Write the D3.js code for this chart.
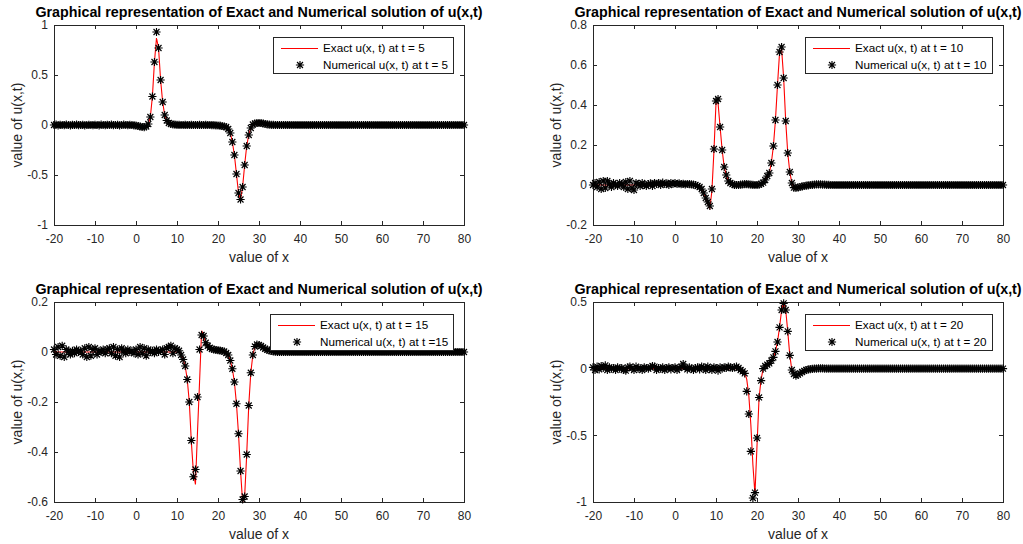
<!DOCTYPE html>
<html>
<head>
<meta charset="utf-8">
<script src="https://cdn.jsdelivr.net/npm/d3@7"></script>
<style>
  body { margin: 0; background: #fff; }
  svg { display: block; font-family: "Liberation Sans", Arial, Helvetica, sans-serif; }
</style>
</head>
<body>
<svg id="fig" width="1023" height="544"></svg>
<script>
// ---- data ----
const xGrid = d3.range(-20, 80.25, 0.5);   // numerical grid, dx = 0.5
const xTicks = [-20, -10, 0, 10, 20, 30, 40, 50, 60, 70, 80];

const yTicks5 = [-1, -0.5, 0, 0.5, 1];
const yTicks10 = [-0.2, 0, 0.2, 0.4, 0.6, 0.8];
const yTicks15 = [-0.6, -0.4, -0.2, 0, 0.2];
const yTicks20 = [-1, -0.5, 0, 0.5];

const titleText = "Graphical representation of Exact and Numerical solution of u(x,t)";
const xLabelText = "value of x";
const yLabelText = "value of u(x,t)";
const exactLabels = ["Exact u(x, t) at t = 5", "Exact u(x, t) at t = 10", "Exact u(x, t) at t = 15", "Exact u(x, t) at t = 20"];
const numLabels = ["Numerical u(x, t) at t = 5", "Numerical u(x, t) at t = 10", "Numerical u(x, t) at t =15", "Numerical u(x, t) at t = 20"];

// numerical solution, one value per grid point (rows of 10 units)
const num5 = [
  0, 0.004, -0.003, 0.002, 0, -0.002, 0.003, 0, -0.003, 0.002, 0, 0.003, -0.002, 0, 0.002, -0.003, 0, 0.002, 0, -0.002,
  0.002, 0, -0.003, 0.003, 0, -0.002, 0.002, 0, 0.003, -0.002, 0, 0.002, -0.003, 0, 0.003, 0, -0.002, 0.002, 0, -0.003,
  -0.005, -0.01, -0.015, -0.02, -0.022, -0.015, 0.01, 0.08, 0.285, 0.63, 0.93, 0.77, 0.45, 0.23, 0.1, 0.045, 0.02, 0.01, 0.005, 0.003,
  0.002, 0.001, 0, 0, 0.001, 0, 0, 0.001, 0, 0, 0, 0.001, 0, 0, 0.001, 0, 0, -0.001, -0.002, -0.004,
  -0.005, -0.007, -0.01, -0.015, -0.02, -0.04, -0.08, -0.17, -0.3, -0.49, -0.68, -0.745, -0.62, -0.4, -0.21, -0.1, -0.03, 0.005, 0.015, 0.02,
  0.02, 0.02, 0.015, 0.01, 0.006, 0.004, 0.002, 0.001, 0, 0, 0, 0, 0, 0, 0, 0, 0, 0, 0, 0,
  0, 0, 0, 0, 0, 0, 0, 0, 0, 0, 0, 0, 0, 0, 0, 0, 0, 0, 0, 0,
  0, 0, 0, 0, 0, 0, 0, 0, 0, 0, 0, 0, 0, 0, 0, 0, 0, 0, 0, 0,
  0, 0, 0, 0, 0, 0, 0, 0, 0, 0, 0, 0, 0, 0, 0, 0, 0, 0, 0, 0,
  0, 0, 0, 0, 0, 0, 0, 0, 0, 0, 0, 0, 0, 0, 0, 0, 0, 0, 0, 0,
  0
];
const num10 = [
  0, 0.01, -0.01, 0.015, -0.02, 0.02, -0.015, 0.02, 0.005, -0.01, 0.01, 0, -0.005, 0.01, 0.005, -0.01, 0.015, -0.02, 0.02, -0.015,
  -0.025, 0.01, 0.005, -0.005, 0.01, 0, -0.005, 0.005, 0.008, -0.005, 0.01, 0.005, 0.01, 0, 0.012, 0.005, 0.008, 0, 0.01, 0.005,
  0.01, 0.005, 0.008, 0.004, 0.006, 0.003, 0.005, 0.004, 0.003, 0.002, 0, -0.005, -0.01, -0.02, -0.04, -0.065, -0.085, -0.105, -0.02, 0.18,
  0.42, 0.43, 0.29, 0.175, 0.09, 0.05, 0.02, 0.01, 0.004, 0.001, 0, 0, 0.002, 0.003, 0.004, 0.004, 0.003, 0.002, 0.001, 0,
  0, 0.002, 0.006, 0.012, 0.025, 0.045, 0.06, 0.11, 0.195, 0.325, 0.5, 0.665, 0.69, 0.535, 0.32, 0.16, 0.065, 0.01, -0.013, -0.015,
  -0.012, -0.01, -0.007, -0.005, -0.003, -0.002, 0, 0.001, 0.002, 0.003, 0.003, 0.003, 0.002, 0.002, 0.001, 0.001, 0, 0, 0, 0,
  0, 0, 0, 0, 0, 0, 0, 0, 0, 0, 0, 0, 0, 0, 0, 0, 0, 0, 0, 0,
  0, 0, 0, 0, 0, 0, 0, 0, 0, 0, 0, 0, 0, 0, 0, 0, 0, 0, 0, 0,
  0, 0, 0, 0, 0, 0, 0, 0, 0, 0, 0, 0, 0, 0, 0, 0, 0, 0, 0, 0,
  0, 0, 0, 0, 0, 0, 0, 0, 0, 0, 0, 0, 0, 0, 0, 0, 0, 0, 0, 0,
  0
];
const num15 = [
  0.01, -0.01, 0.02, -0.015, 0.025, -0.02, 0.01, 0, -0.01, 0.005, -0.005, 0.01, 0, 0.005, -0.01, 0.015, -0.02, 0.02, -0.015, 0.01,
  0.015, -0.01, 0.005, 0, 0.01, -0.005, 0.01, 0.015, -0.005, 0.02, -0.015, 0.01, -0.02, 0.015, 0.005, -0.005, 0.01, 0, 0.005, -0.005,
  0.01, -0.01, 0.02, -0.005, 0.015, -0.015, 0.01, 0, 0.005, -0.005, 0.01, 0, 0.005, 0.01, -0.01, 0.015, 0.02, 0.025, -0.005, 0.015,
  0.01, 0.005, -0.012, -0.03, -0.056, -0.11, -0.2, -0.354, -0.499, -0.47, -0.18, 0.01, 0.068, 0.064, 0.037, 0.025, 0.017, 0.012, 0.01, 0.008,
  0.007, 0.006, 0.004, 0.002, -0.004, -0.012, -0.034, -0.067, -0.12, -0.207, -0.327, -0.476, -0.59, -0.578, -0.41, -0.214, -0.083, -0.012, 0.022, 0.03,
  0.028, 0.024, 0.018, 0.013, 0.009, 0.006, 0.004, 0.002, 0.001, 0, 0, 0, 0, 0, 0, 0, 0, 0, 0, 0,
  0, 0, 0, 0, 0, 0, 0, 0, 0, 0, 0, 0, 0, 0, 0, 0, 0, 0, 0, 0,
  0, 0, 0, 0, 0, 0, 0, 0, 0, 0, 0, 0, 0, 0, 0, 0, 0, 0, 0, 0,
  0, 0, 0, 0, 0, 0, 0, 0, 0, 0, 0, 0, 0, 0, 0, 0, 0, 0, 0, 0,
  0, 0, 0, 0, 0, 0, 0, 0, 0, 0, 0, 0, 0, 0, 0, 0, 0, 0, 0, 0,
  0
];
const num20 = [
  0.01, -0.01, 0.015, -0.005, 0.02, 0.005, 0.025, -0.01, 0.01, 0, 0.005, -0.01, 0.01, 0, 0.005, -0.01, -0.015, 0.01, 0.015, 0.005,
  -0.01, 0.015, 0, 0.005, -0.01, 0.01, 0.005, 0, 0.01, 0.02, 0.015, -0.01, 0.005, 0, 0.01, -0.01, 0.005, 0.01, -0.005, 0.005,
  0.01, -0.01, 0.005, 0.015, 0.035, 0.01, -0.005, 0.01, 0, -0.01, 0.005, 0.01, -0.005, 0.015, 0.01, -0.01, 0.015, 0.005, -0.01, 0.01,
  0.005, -0.015, 0.01, 0, 0.01, 0.005, 0.015, 0.01, 0.005, 0.01, 0.015, 0.005, -0.01, -0.02, -0.035, -0.17, -0.34, -0.62, -0.97, -0.93,
  -0.52, -0.216, -0.09, 0, 0.02, 0.03, 0.04, 0.06, 0.085, 0.13, 0.2, 0.31, 0.44, 0.49, 0.44, 0.28, 0.1, -0.01, -0.04, -0.053,
  -0.045, -0.035, -0.025, -0.016, -0.01, -0.006, -0.003, -0.001, 0, 0.001, 0.002, 0.002, 0.002, 0.001, 0.001, 0, 0, 0, 0, 0,
  0, 0, 0, 0, 0, 0, 0, 0, 0, 0, 0, 0, 0, 0, 0, 0, 0, 0, 0, 0,
  0, 0, 0, 0, 0, 0, 0, 0, 0, 0, 0, 0, 0, 0, 0, 0, 0, 0, 0, 0,
  0, 0, 0, 0, 0, 0, 0, 0, 0, 0, 0, 0, 0, 0, 0, 0, 0, 0, 0, 0,
  0, 0, 0, 0, 0, 0, 0, 0, 0, 0, 0, 0, 0, 0, 0, 0, 0, 0, 0, 0,
  0
];

// exact solution, [x, u] vertices of the red curve
const exact5 = [[-20, 0], [0, 0], [1, -0.012], [2, -0.02], [2.5, -0.015], [3, 0.01], [3.5, 0.08], [4, 0.285], [4.5, 0.63], [5, 0.87],
  [5.5, 0.77], [6, 0.45], [6.5, 0.23], [7, 0.1], [7.5, 0.045], [8, 0.02], [9, 0.005], [10, 0], [20, -0.005], [21, -0.01], [22, -0.02],
  [22.5, -0.04], [23, -0.08], [23.5, -0.17], [24, -0.3], [24.5, -0.49], [25, -0.68], [25.5, -0.745], [26, -0.62], [26.5, -0.4],
  [27, -0.21], [27.5, -0.1], [28, -0.03], [28.5, 0.005], [29, 0.015], [30, 0.02], [31, 0.015], [32, 0.006], [33, 0.003], [35, 0], [80, 0]];
const exact10 = [[-20, 0], [5, 0], [5.5, -0.005], [6, -0.01], [6.5, -0.02], [7, -0.04], [7.5, -0.065], [8, -0.09], [8.5, -0.115],
  [9, -0.03], [9.5, 0.17], [10, 0.41], [10.5, 0.41], [11, 0.29], [11.5, 0.175], [12, 0.09], [12.5, 0.05], [13, 0.02], [14, 0.004],
  [15, 0], [17, 0.004], [19, 0.001], [20, 0], [21, 0.006], [22, 0.025], [22.5, 0.045], [23, 0.06], [23.5, 0.11], [24, 0.195],
  [24.5, 0.325], [25, 0.5], [25.5, 0.66], [26, 0.68], [26.5, 0.535], [27, 0.32], [27.5, 0.16], [28, 0.065], [28.5, 0.01],
  [29, -0.013], [30, -0.012], [31, -0.007], [33, 0], [35, 0.003], [38, 0], [80, 0]];
const exact15 = [[-20, 0], [10.5, 0], [11, -0.012], [11.5, -0.03], [12, -0.056], [12.5, -0.11], [13, -0.2], [13.5, -0.36],
  [14, -0.48], [14.5, -0.53], [15, -0.32], [15.5, -0.12], [16, 0.085], [16.5, 0.065], [17, 0.037], [17.5, 0.025], [18, 0.017],
  [19, 0.01], [20, 0.007], [21, 0.004], [22, -0.004], [22.5, -0.012], [23, -0.034], [23.5, -0.067], [24, -0.12], [24.5, -0.207],
  [25, -0.327], [25.5, -0.476], [26, -0.6], [26.5, -0.578], [27, -0.41], [27.5, -0.214], [28, -0.083], [28.5, -0.012],
  [29, 0.022], [29.5, 0.03], [30, 0.028], [31, 0.018], [32, 0.009], [33, 0.004], [34.5, 0], [80, 0]];
const exact20 = [[-20, 0], [15.5, 0], [16, -0.005], [16.5, -0.015], [17, -0.03], [17.5, -0.08], [18, -0.2], [18.5, -0.42],
  [19, -0.72], [19.5, -0.94], [20, -0.58], [20.5, -0.22], [21, -0.08], [21.5, 0], [22, 0.02], [22.5, 0.03], [23, 0.04],
  [23.5, 0.06], [24, 0.085], [24.5, 0.13], [25, 0.2], [25.5, 0.31], [26, 0.44], [26.5, 0.5], [27, 0.44], [27.5, 0.28],
  [28, 0.1], [28.5, -0.01], [29, -0.04], [29.5, -0.053], [30, -0.045], [31, -0.025], [32, -0.01], [33, -0.003], [34, 0], [80, 0]];

// matlab style '*' marker: plus + cross
const starSymbol = {
  draw(context, size) {
    const r = Math.sqrt(size) / 2;
    const d = r * 0.72;
    context.moveTo(-r, 0); context.lineTo(r, 0);
    context.moveTo(0, -r); context.lineTo(0, r);
    context.moveTo(-d, -d); context.lineTo(d, d);
    context.moveTo(-d, d); context.lineTo(d, -d);
  }
};

class SolutionPlot {

  constructor(_config, _numY, _exact) {
    this.config = {
      parentElement: _config.parentElement,
      left: _config.left,
      top: _config.top,
      width: _config.width || 410,
      height: _config.height || 200,
      yDomain: _config.yDomain,
      yTicks: _config.yTicks,
      labels: _config.labels
    }
    this.numY = _numY;
    this.exact = _exact;
    this.initVis();
  }

  initVis() {
    let vis = this;

    vis.width = vis.config.width;
    vis.height = vis.config.height;

    vis.chart = d3.select(vis.config.parentElement).append('g')
        .attr('transform', `translate(${vis.config.left},${vis.config.top})`);

    vis.xScale = d3.scaleLinear()
        .domain([-20, 80])
        .range([0, vis.width]);

    vis.yScale = d3.scaleLinear()
        .domain(vis.config.yDomain)
        .range([vis.height, 0]);

    // box on, ticks pointing inwards on all four sides
    vis.chart.append('g')
        .attr('class', 'axis')
        .attr('transform', `translate(0,${vis.height})`)
        .call(d3.axisBottom(vis.xScale).tickValues(xTicks).tickSize(-4).tickSizeOuter(0).tickPadding(9.5).tickFormat(d => d));
    vis.chart.append('g')
        .attr('class', 'axis')
        .call(d3.axisTop(vis.xScale).tickValues(xTicks).tickSize(-4).tickSizeOuter(0).tickFormat(''));
    vis.chart.append('g')
        .attr('class', 'axis')
        .call(d3.axisLeft(vis.yScale).tickValues(vis.config.yTicks).tickSize(-4).tickSizeOuter(0).tickPadding(6).tickFormat(d => d));
    vis.chart.append('g')
        .attr('class', 'axis')
        .attr('transform', `translate(${vis.width},0)`)
        .call(d3.axisRight(vis.yScale).tickValues(vis.config.yTicks).tickSize(-4).tickSizeOuter(0).tickFormat(''));

    vis.chart.selectAll('.axis path.domain').remove();
    vis.chart.selectAll('.axis line')
        .attr('stroke', '#262626')
        .attr('shape-rendering', 'crispEdges');
    vis.chart.selectAll('.axis text')
        .attr('fill', '#262626')
        .style('font-size', '12px')
        .style('font-family', '"Liberation Sans", Arial, sans-serif');

    vis.chart.append('rect')
        .attr('x', 0)
        .attr('y', 0)
        .attr('width', vis.width)
        .attr('height', vis.height)
        .attr('fill', 'none')
        .attr('stroke', '#262626')
        .attr('stroke-width', 1)
        .attr('shape-rendering', 'crispEdges');

    // title + axis labels
    vis.chart.append('text')
        .attr('x', vis.width / 2)
        .attr('y', -8.5)
        .attr('text-anchor', 'middle')
        .attr('font-weight', 'bold')
        .style('font-size', '14.3px')
        .attr('fill', '#000')
        .text(titleText);

    vis.chart.append('text')
        .attr('x', vis.width / 2)
        .attr('y', vis.height + 37)
        .attr('text-anchor', 'middle')
        .style('font-size', '14px')
        .attr('fill', '#262626')
        .text(xLabelText);

    vis.chart.append('text')
        .attr('transform', `translate(-37,${vis.height / 2}) rotate(-90)`)
        .attr('dy', '0.35em')
        .attr('text-anchor', 'middle')
        .style('font-size', '14px')
        .attr('fill', '#262626')
        .text(yLabelText);

    vis.exactLine = d3.line()
        .x(d => vis.xScale(d[0]))
        .y(d => vis.yScale(d[1]));

    vis.star = d3.symbol().type(starSymbol).size(68);

    vis.updateVis();
  }

  updateVis() {
    let vis = this;

    vis.chart.append('path')
        .datum(vis.exact)
        .attr('class', 'line')
        .attr('fill', 'none')
        .attr('stroke', '#ff0000')
        .attr('stroke-width', 1.1)
        .attr('d', vis.exactLine);

    vis.chart.selectAll('.dot')
        .data(xGrid.map((x, i) => ({ x: x, u: vis.numY[i] })))
        .join('path')
        .attr('class', 'dot')
        .attr('transform', d => `translate(${vis.xScale(d.x)},${vis.yScale(d.u)})`)
        .attr('d', vis.star)
        .attr('fill', 'none')
        .attr('stroke', '#000')
        .attr('stroke-width', 1.15);

    vis.renderLegend();
  }

  renderLegend() {
    let vis = this;

    let leg = vis.chart.append('g').attr('class', 'legend');
    let box = leg.append('rect');

    let texts = leg.selectAll('text')
        .data(vis.config.labels)
        .join('text')
        .attr('x', 50)
        .attr('y', (d, i) => 11 + i * 17)
        .attr('dy', '0.35em')
        .style('font-size', '11.7px')
        .attr('fill', '#000')
        .text(d => d);

    let tw = d3.max(texts.nodes(), n => n.getComputedTextLength());
    let bw = Math.round(50 + tw + 5);

    box.attr('x', 0).attr('y', 0)
        .attr('width', bw).attr('height', 36)
        .attr('fill', '#fff')
        .attr('stroke', '#262626')
        .attr('stroke-width', 1)
        .attr('shape-rendering', 'crispEdges');

    leg.append('line')
        .attr('x1', 8).attr('x2', 45)
        .attr('y1', 11.5).attr('y2', 11.5)
        .attr('stroke', '#ff0000')
        .attr('stroke-width', 1.2);

    leg.append('path')
        .attr('transform', 'translate(27,28)')
        .attr('d', vis.star)
        .attr('fill', 'none')
        .attr('stroke', '#000')
        .attr('stroke-width', 1.15);

    leg.attr('transform', `translate(${vis.width - 11 - bw},12)`);
  }
}

const panels = [
  { left: 54, top: 25, yDomain: [-1, 1], yTicks: yTicks5, num: num5, exact: exact5, k: 0 },
  { left: 593, top: 25, yDomain: [-0.2, 0.8], yTicks: yTicks10, num: num10, exact: exact10, k: 1 },
  { left: 54, top: 302, yDomain: [-0.6, 0.2], yTicks: yTicks15, num: num15, exact: exact15, k: 2 },
  { left: 593, top: 302, yDomain: [-1, 0.5], yTicks: yTicks20, num: num20, exact: exact20, k: 3 }
];

panels.forEach(p => {
  new SolutionPlot({
    parentElement: '#fig',
    left: p.left,
    top: p.top,
    yDomain: p.yDomain,
    yTicks: p.yTicks,
    labels: [exactLabels[p.k], numLabels[p.k]]
  }, p.num, p.exact);
});
</script>
</body>
</html>
